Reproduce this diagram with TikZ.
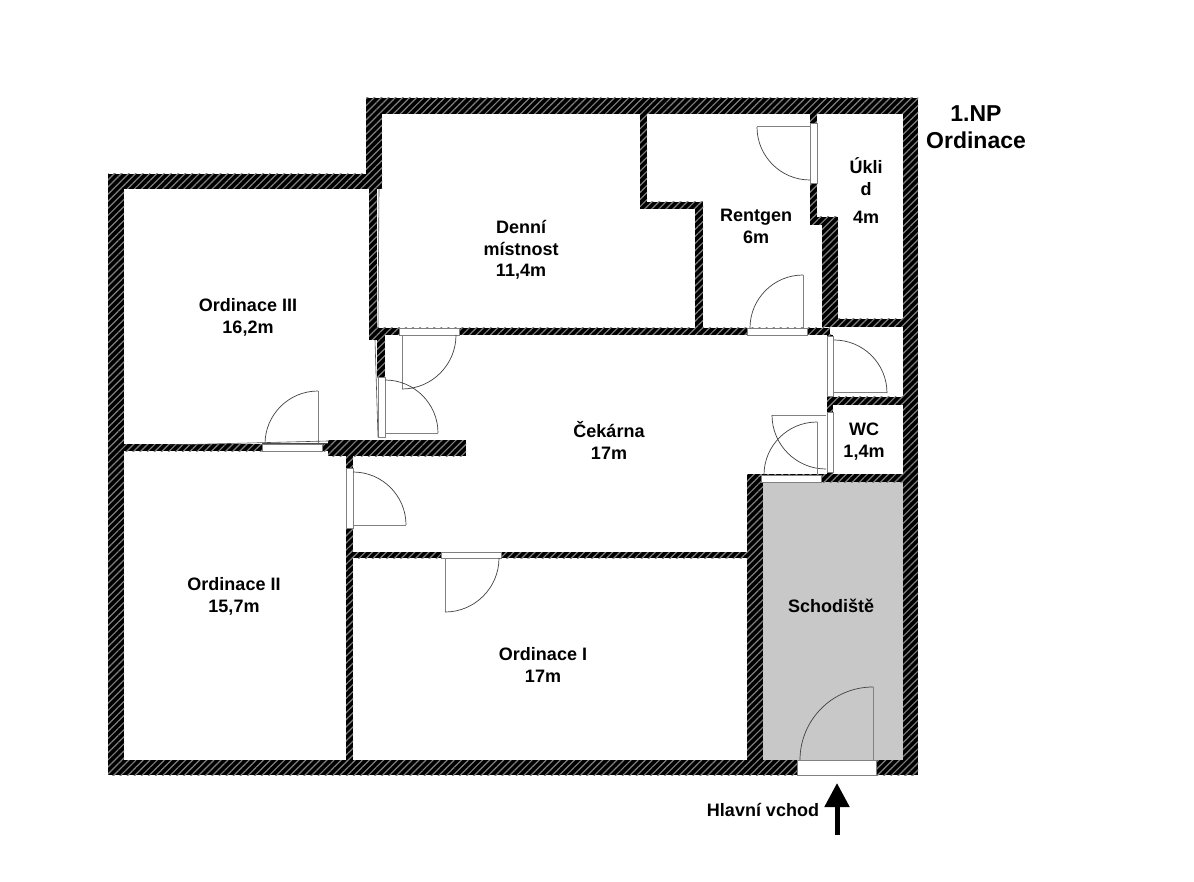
\documentclass[tikz,border=0pt]{standalone}
\usepackage{fontspec}
\setmainfont{Liberation Sans}
\usetikzlibrary{patterns.meta,arrows.meta}
\definecolor{stairgray}{HTML}{C8C8C8}
\definecolor{leafgray}{HTML}{808080}
\tikzset{
    wall/.style={preaction={fill=black}, pattern={Lines[angle=45,distance=5pt,line width=1.2pt]}, pattern color=leafgray},
    frame/.style={fill=white, draw=leafgray, line width=0.5pt},
    leaf/.style={draw=leafgray, line width=1pt},
    swing/.style={draw=black!75, line width=0.7pt},
    seam/.style={draw=black!70, line width=0.6pt},
    room/.style={align=center, font=\bfseries\fontsize{18}{21.5}\selectfont, inner sep=0pt},
    title/.style={align=center, font=\bfseries\fontsize{23}{27}\selectfont, inner sep=0pt}
}
\begin{document}
\begin{tikzpicture}[x=1pt, y=-1pt]
    \useasboundingbox (0,0) rectangle (1194,882);
    \fill[white] (0,0) rectangle (1194,882);
    \fill[stairgray] (763,482) rectangle (903,760);

    % walls: x1/y1/x2/y2
    \foreach \xa/\ya/\xb/\yb in {366/98/918/114, 366/98/382/189, 108/174/382/189, 108/174/124/775,
        108/760/918/775, 903/98/918/775, 369/189/377/340, 378/328/830/335, 377/328/385/378,
        328/440/466/456, 124/444/328/451, 346/456/353/760, 353/552/748/558, 747/474/763/760,
        763/474/903/482, 827/335/833/474, 827/397/903/405, 822/319/903/327, 695/202/703/328,
        640/202/703/209, 640/114/647/209, 810/114/817/225, 810/217/838/225, 822/217/838/327}
        \path[wall] (\xa,\ya) rectangle (\xb,\yb);

    % door openings
    \foreach \xa/\ya/\xb/\yb in {399/328/459/335, 747/328/807/335, 810/123/817/183, 378/377/385/437,
        262/444/322/451, 346/468/353/528, 441/552/501/558, 827/336/833/396, 827/412/833/472,
        761/475/821/482, 797/760/876/775}
        \draw[frame] (\xa,\ya) rectangle (\xb,\yb);

    % door leaves and swings: hinge x/y/leaf angle/end angle/radius
    \foreach \cx/\cy/\sa/\ea/\r in {810/127/180/270/53, 803/328/90/180/53, 402/335/270/360/54,
        385/433/0/90/53, 318/444/90/180/53, 353/525/0/90/53, 445/558/270/360/54, 834/393/0/90/53,
        826/415/180/270/54, 817/475/90/180/53, 873/760/90/180/73} {
        \draw[leaf] (\cx,\cy) -- ++(\sa:\r pt);
        \draw[swing] (\cx,\cy) ++(\sa:\r pt) arc[start angle=\sa, end angle=\ea, radius=\r pt];
    }

    % seams along the thin walls
    \draw[seam] (379,189) -- (378,328);
    \draw[seam] (375,340) -- (378,437);
    \draw[seam] (170,445) -- (328,441);
    \draw[seam] (262,443) -- (328,443);

    \node[room] (ordinace3) at (248,317.5) {Ordinace III\\16,2m};
    \node[room] (denni) at (521,250) {Denní\\místnost\\11,4m};
    \node[room] (rentgen) at (756,226.5) {Rentgen\\6m};
    \node[room] (uklid) at (866,191) {Úkli\\d\\[7pt]4m};
    \node[room] (cekarna) at (609,440.5) {Čekárna\\17m};
    \node[room] (wc) at (864,441.5) {WC\\1,4m};
    \node[room] (ordinace2) at (234,596.5) {Ordinace II\\15,7m};
    \node[room] (ordinace1) at (543,665) {Ordinace I\\17m};
    \node[room] (schodiste) at (831,606) {Schodiště};
    \node[room] (vchod) at (763,810) {Hlavní vchod};
    \node[title] (patro) at (976,127.5) {1.NP\\Ordinace};

    \coordinate (vstup) at (837,835);
    \coordinate (dvere) at (837,783);
    \draw[line width=5pt, -{Triangle[length=24pt,width=24pt]}] (vstup) -- (dvere);
\end{tikzpicture}
\end{document}
